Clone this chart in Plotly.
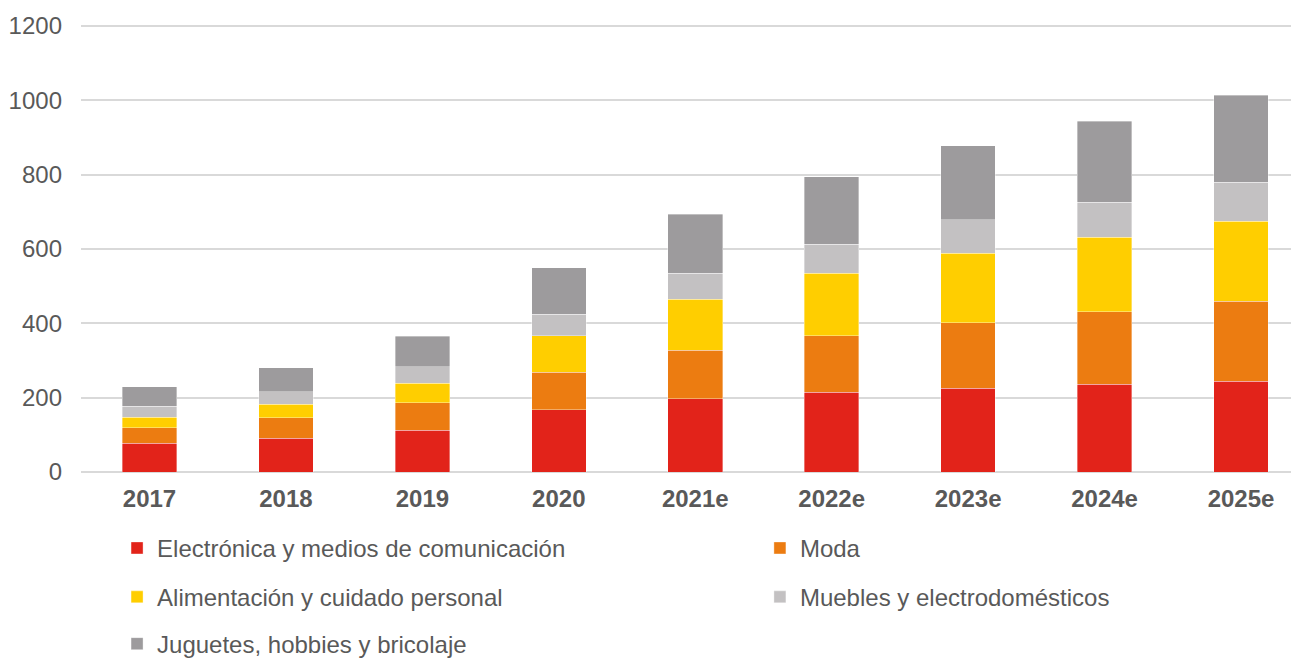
import plotly.graph_objects as go

years = ["2017", "2018", "2019", "2020", "2021e", "2022e", "2023e", "2024e", "2025e"]

electronica = [77, 91, 112, 167, 197, 214, 225, 236, 244]
moda = [42, 55, 74, 101, 130, 153, 176, 195, 215]
alimentacion = [28, 36, 53, 99, 138, 168, 188, 200, 215]
muebles = [30, 34, 44, 57, 70, 78, 89, 95, 106]
juguetes = [52, 64, 82, 126, 158, 181, 200, 218, 233]

series = [
    ("Electrónica y medios de comunicación", electronica, "#E2231A"),
    ("Moda", moda, "#EC7C11"),
    ("Alimentación y cuidado personal", alimentacion, "#FFCE00"),
    ("Muebles y electrodomésticos", muebles, "#C3C1C2"),
    ("Juguetes, hobbies y bricolaje", juguetes, "#9D9B9D"),
]

# legend slot of each series: (column x, row y) in paper coords
legend_slots = [(0.0296, -0.1704), (0.5574, -0.1704),
                (0.0296, -0.2796), (0.5574, -0.2796),
                (0.0296, -0.3840)]

FONT = "Liberation Sans, Arial, sans-serif"
TXT = "#595959"

fig = go.Figure()
legend_layout = {}
for i, (name, vals, color) in enumerate(series):
    key = "legend" if i == 0 else f"legend{i + 1}"
    fig.add_trace(go.Bar(
        x=years, y=vals, name=name, legend=key,
        marker=dict(color=color, line=dict(color="rgba(255,255,255,0.6)", width=0.6)),
        width=0.4,
    ))
    lx, ly = legend_slots[i]
    legend_layout[key] = dict(
        x=lx, y=ly, orientation="h", xanchor="left", yanchor="middle",
        font=dict(family=FONT, size=24, color=TXT),
        bgcolor="rgba(0,0,0,0)", borderwidth=0,
        itemclick=False, itemdoubleclick=False, traceorder="normal",
    )

# page body adds an 8px offset; figure is sized to fill the rest of the window
fig.update_layout(
    width=1291, height=650,
    margin=dict(l=73, r=0, t=15.6, b=185.5, pad=0, autoexpand=False),
    paper_bgcolor="white", plot_bgcolor="white",
    barmode="stack",
    font=dict(family=FONT, size=24, color=TXT),
    xaxis=dict(
        type="category", range=[-0.502, 8.425], automargin=False,
        tickfont=dict(family=FONT, size=24, color=TXT, weight="bold"),
        showgrid=False, showline=False, zeroline=False,
        ticks="", ticklabelstandoff=10,
    ),
    yaxis=dict(
        range=[0, 1205], tickvals=[0, 200, 400, 600, 800, 1000, 1200], automargin=False,
        tickfont=dict(family=FONT, size=24, color=TXT),
        showgrid=True, gridcolor="#D9D9D9", gridwidth=1.5,
        zeroline=True, zerolinecolor="#D9D9D9", zerolinewidth=1.5,
        showline=False, ticks="", ticklabelstandoff=18,
    ),
    showlegend=True,
    **legend_layout,
)

fig.write_html("out.html")
